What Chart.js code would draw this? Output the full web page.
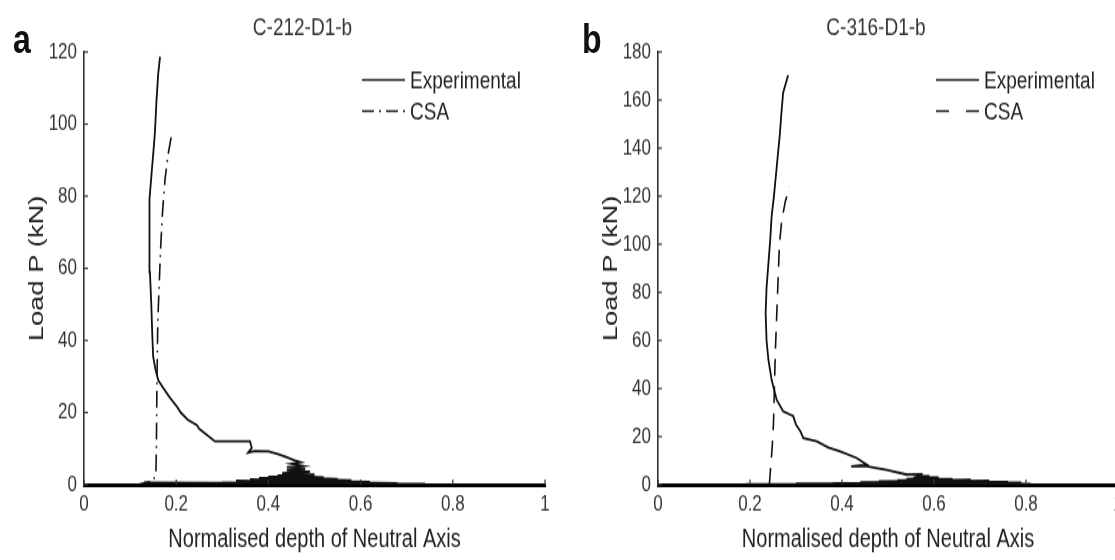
<!DOCTYPE html>
<html>
<head>
<meta charset="utf-8">
<script src="https://cdn.jsdelivr.net/npm/chart.js@4.4.1/dist/chart.umd.min.js"></script>
<style>
  html, body { margin: 0; padding: 0; background: #fff; overflow: hidden; }
  #wrap { position: absolute; left: 0; top: 0; width: 1115px; height: 431px;
          transform: scaleY(1.2993); transform-origin: 0 0; }
  .pane { position: absolute; top: 0; height: 431px; overflow: hidden; }
  .lab { position: absolute; top: 14px; font: bold 32px/32px "Liberation Sans", Arial, sans-serif; color: #111; }
</style>
</head>
<body>
<div id="wrap">
  <div class="pane" style="left:0;width:557px"><canvas id="cA" width="557" height="431"></canvas></div>
  <div class="pane" style="left:557px;width:558px"><canvas id="cB" width="575" height="431"></canvas></div>
  <div class="lab" style="left:13px">a</div>
  <div class="lab" style="left:582px">b</div>
</div>
<script>
// panel a: C-212-D1-b
const expA_x = [0.13, 0.74, 0.30, 0.68, 0.33, 0.62, 0.36, 0.58, 0.38, 0.55, 0.40, 0.52, 0.42, 0.50, 0.43, 0.49,
  0.44, 0.48, 0.44, 0.475, 0.45, 0.47, 0.455, 0.44, 0.42, 0.40, 0.37, 0.356, 0.364, 0.36, 0.284, 0.265, 0.25,
  0.245, 0.225, 0.21, 0.202, 0.187, 0.171, 0.161, 0.155, 0.15, 0.148, 0.146, 0.143, 0.141, 0.143, 0.147,
  0.151, 0.154, 0.157, 0.161, 0.165];
const expA_p = [0.6, 0.2, 0.5, 0.4, 1.0, 0.8, 1.4, 1.2, 1.8, 1.6, 2.2, 2.0, 2.6, 2.8, 3.2, 3.6,
  4.0, 4.4, 4.8, 5.2, 5.8, 6.2, 6.8, 7.6, 8.5, 9.2, 9.3, 8.9, 10.2, 12.0, 12.0, 14, 15.5,
  16.5, 18, 20, 21.6, 24, 27, 29, 32, 35.5, 42, 50, 59, 70, 79, 87,
  93, 98, 106, 114, 118.7];
const csaA_x = [0.115, 0.15, 0.156, 0.157, 0.158, 0.160, 0.163, 0.166, 0.170, 0.176, 0.183, 0.19];
const csaA_p = [0, 1.0, 3, 10, 25, 45, 55, 65, 75, 85, 92, 97];
const yTicksA = [0, 20, 40, 60, 80, 100, 120];

// panel b: C-316-D1-b
const expB_x = [0.19, 0.81, 0.30, 0.79, 0.38, 0.76, 0.44, 0.72, 0.48, 0.68, 0.52, 0.64, 0.54, 0.61, 0.555, 0.59,
  0.56, 0.575, 0.541, 0.497, 0.454, 0.42, 0.454, 0.432, 0.396, 0.37, 0.345, 0.316, 0.31, 0.30, 0.294, 0.272,
  0.258, 0.247, 0.240, 0.236, 0.234, 0.236, 0.240, 0.244, 0.247, 0.252, 0.257, 0.261, 0.265, 0.268, 0.272, 0.283];
const expB_p = [0.2, 0.3, 0.4, 0.8, 0.6, 1.2, 1.0, 1.6, 1.4, 2.0, 1.8, 2.4, 2.4, 3.0, 3.0, 3.6,
  3.8, 4.4, 4.2, 6.2, 7.6, 7.6, 8.3, 11.1, 13.8, 15.5, 18, 19.4, 22, 25, 28.5, 30.5,
  35.3, 43.6, 52, 60, 71.5, 82, 92, 102, 111.5, 120, 130, 138, 146, 154, 163, 170.4];
const csaB_x = [0.242, 0.244, 0.248, 0.251, 0.253, 0.255, 0.258, 0.261, 0.264, 0.269, 0.277, 0.286];
const csaB_p = [0, 5, 15, 25, 40, 55, 70, 85, 100, 110, 118, 124];
const yTicksB = [0, 20, 40, 60, 80, 100, 120, 140, 160, 180];

const xTicks = [0, 0.2, 0.4, 0.6, 0.8, 1];
const FONT = '"Liberation Sans", Arial, sans-serif';

const zip = (xs, ys) => xs.map((x, i) => ({ x, y: ys[i] }));

// ticks pointing into the plot, like the original
const inwardTicks = {
  id: 'inwardTicks',
  afterDraw(chart) {
    const { ctx, chartArea: a, scales: { x, y } } = chart;
    ctx.save();
    ctx.strokeStyle = '#333';
    ctx.lineWidth = 1.2;
    y.ticks.forEach(t => {
      const py = y.getPixelForValue(t.value);
      ctx.beginPath(); ctx.moveTo(a.left, py); ctx.lineTo(a.left + 4, py); ctx.stroke();
    });
    x.ticks.forEach(t => {
      const px = x.getPixelForValue(t.value);
      ctx.beginPath(); ctx.moveTo(px, a.bottom); ctx.lineTo(px, a.bottom - 4); ctx.stroke();
    });
    ctx.restore();
  }
};

// title a little left of the plot centre, legend inside the plot, top right
const innerLegend = {
  id: 'innerLegend',
  afterDraw(chart, args, opts) {
    const { ctx, chartArea: a } = chart;
    ctx.save();
    ctx.fillStyle = '#333';
    ctx.font = '19px ' + FONT;
    ctx.textAlign = 'center';
    ctx.textBaseline = 'middle';
    ctx.fillText(opts.title, (a.left + a.right) / 2 - 12, 21.5);
    ctx.textAlign = 'left';
    ctx.fillStyle = '#222';
    chart.data.datasets.forEach((ds, i) => {
      const yy = a.top + opts.rows[i];
      ctx.strokeStyle = '#111';
      ctx.lineWidth = 1.4;
      ctx.setLineDash(opts.dashes[i]);
      ctx.beginPath();
      ctx.moveTo(a.left + 278, yy); ctx.lineTo(a.left + 321, yy);
      ctx.stroke();
      ctx.setLineDash([]);
      ctx.fillText(ds.label, a.left + 326, yy + 1);
    });
    ctx.restore();
  }
};

function makeChart(id, cfg) {
  new Chart(document.getElementById(id), {
    type: 'scatter',
    data: {
      datasets: [
        { label: 'Experimental', data: zip(cfg.ex, cfg.ep), showLine: true, borderColor: '#111',
          borderWidth: 1.8, pointRadius: 0, tension: 0 },
        { label: 'CSA', data: zip(cfg.cx, cfg.cp), showLine: true, borderColor: '#111',
          borderWidth: 1.6, pointRadius: 0, tension: 0, borderDash: cfg.dash }
      ]
    },
    options: {
      responsive: false,
      animation: false,
      layout: { padding: { left: 0, right: cfg.padRight, top: 40, bottom: 0 } },
      plugins: {
        legend: { display: false },
        tooltip: { enabled: false },
        title: { display: false },
        innerLegend: { title: cfg.title, rows: [21.5, 45.5], dashes: [[], cfg.legendDash] }
      },
      scales: {
        x: {
          type: 'linear', min: 0, max: 1,
          afterBuildTicks: s => { s.ticks = xTicks.map(v => ({ value: v })); },
          afterFit: s => { s.height = 58; },
          grid: { display: false, drawTicks: false },
          border: { display: true, color: '#000', width: 3 },
          ticks: { padding: 5, color: '#333', font: { family: FONT, size: 17 }, maxRotation: 0,
                   callback: v => String(+v.toFixed(1)) },
          title: { display: true, text: 'Normalised depth of Neutral Axis', color: '#222',
                   font: { family: FONT, size: 20 }, padding: { top: 0, bottom: 3.5 } }
        },
        y: {
          type: 'linear', min: 0, max: cfg.ymax,
          afterBuildTicks: s => { s.ticks = cfg.yTicks.map(v => ({ value: v })); },
          afterFit: s => { s.width = cfg.yWidth; },
          grid: { display: false, drawTicks: false },
          border: { display: true, color: '#333', width: 1.6 },
          ticks: { padding: 7, color: '#333', font: { family: FONT, size: 17 } },
          title: { display: true, text: 'Load P (kN)', color: '#222',
                   font: { family: FONT, size: 21 }, padding: { top: cfg.yTitlePad, bottom: 0 } }
        }
      }
    },
    plugins: [inwardTicks, innerLegend]
  });
}

makeChart('cA', { ex: expA_x, ep: expA_p, cx: csaA_x, cp: csaA_p, ymax: 120, yTicks: yTicksA,
  title: 'C-212-D1-b', dash: [13, 5, 1.5, 5], legendDash: [12, 5, 2, 5],
  yWidth: 84, padRight: 12, yTitlePad: 25 });
makeChart('cB', { ex: expB_x, ep: expB_p, cx: csaB_x, cp: csaB_p, ymax: 180, yTicks: yTicksB,
  title: 'C-316-D1-b', dash: [13, 8], legendDash: [13, 17],
  yWidth: 101, padRight: 14, yTitlePad: 42 });
</script>
</body>
</html>
